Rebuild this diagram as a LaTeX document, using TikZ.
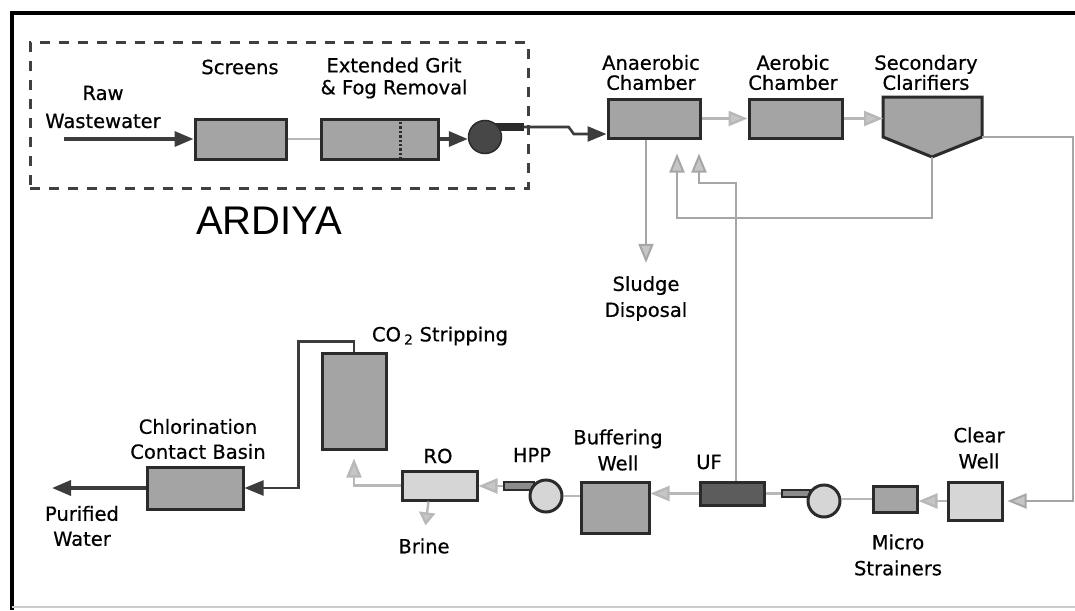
\documentclass[tikz,border=0pt]{standalone}
\usepackage{fontspec}
\setmainfont{DejaVu Sans}[FakeBold=0.6]
\newfontfamily\titlefont{Liberation Sans}
\usetikzlibrary{arrows.meta}

\definecolor{boxline}{HTML}{2B2B2B}
\definecolor{boxfill}{HTML}{A4A4A4}
\definecolor{palefill}{HTML}{D6D6D6}
\definecolor{uffill}{HTML}{5C5C5C}
\definecolor{pipedark}{HTML}{3C3C3C}
\definecolor{pipelight}{HTML}{B8B8B8}

\tikzset{
  unit/.style={draw=boxline, line width=3pt, fill=boxfill, inner sep=0pt},
  lbl/.style={font=\fontsize{19.5}{26}\selectfont, align=center, inner sep=1pt},
  toplbl/.style={lbl, font=\fontsize{19.5}{20}\selectfont},
  darkflow/.style={draw=pipedark, line width=3.4pt, -{Triangle[length=19pt,width=15pt]}},
  lightflow/.style={draw=pipelight, line width=2.4pt, -{Triangle[length=19pt,width=15pt,fill=pipelight!80]}},
  pipe/.style={draw=pipelight, line width=2.4pt},
  returnflow/.style={lightflow, draw=black!35, line width=2pt},
}

\begin{document}
\begin{tikzpicture}[x=1pt,y=-1pt]
  \useasboundingbox (0,0) rectangle (1075,610);
  \draw[line width=4pt] (10,13) -- (1075,13);
  \draw[line width=4pt] (12,13) -- (12,610);
  \draw[black!20, line width=1.5pt] (12,607) -- (1075,607);

  \node[draw=black!75, line width=3pt, dash pattern=on 10pt off 9pt, minimum width=498pt, minimum height=145pt, inner sep=0pt] (pretreat) at (279,115.5) {};
  \node[font=\titlefont\fontsize{40}{40}\selectfont] (ardiya) at (269,221) {ARDIYA};

  \node[unit, minimum width=91pt, minimum height=40pt] (screens) at (240.5,139) {};
  \node[unit, minimum width=117pt, minimum height=40pt] (grit) at (379.5,139) {};
  \draw[boxline, line width=2.4pt, dotted] ([xshift=21pt]grit.north) -- ([xshift=21pt]grit.south);
  \node[fill=boxline, minimum width=33pt, minimum height=8pt, inner sep=0pt] (nozzle1) at (507,127) {};
  \node[circle, draw=boxline, fill=black!72, line width=1.5pt, minimum size=33pt, inner sep=0pt] (pump1) at (485,137) {};
  \coordinate (rawin) at (64,139);

  \node[unit, minimum width=92pt, minimum height=39pt] (anaerobic) at (654,118.5) {};
  \node[unit, minimum width=93pt, minimum height=39pt] (aerobic) at (795.5,118.5) {};
  \draw[unit] (883,97) -- (982,97) -- (982,137) -- (932,157) -- (883,137) -- cycle;
  \coordinate (clar-l) at (883,118.5);
  \coordinate (clar-r) at (982,137);
  \coordinate (clar-b) at (932,157);

  \node[unit, fill=palefill, minimum width=54pt, minimum height=38pt] (clearwell) at (975,501) {};
  \node[unit, minimum width=44pt, minimum height=26pt] (micro) at (895,499) {};
  \node[draw=boxline, fill=black!45, line width=1.8pt, minimum width=28pt, minimum height=7pt, inner sep=0pt] (nozzle2) at (796,493.5) {};
  \node[circle, draw=boxline, fill=palefill, line width=3pt, minimum size=32pt, inner sep=0pt] (pump2) at (824,501) {};
  \node[unit, fill=uffill, minimum width=64pt, minimum height=23pt] (uf) at (732,493.5) {};
  \node[unit, minimum width=68pt, minimum height=51pt] (buffer) at (615,507.5) {};
  \node[draw=boxline, fill=black!45, line width=1.8pt, minimum width=30pt, minimum height=8pt, inner sep=0pt] (nozzleh) at (519,486) {};
  \node[circle, draw=boxline, fill=palefill, line width=3pt, minimum size=32pt, inner sep=0pt] (hpp) at (546,496) {};
  \node[unit, fill=palefill, minimum width=75pt, minimum height=29pt] (ro) at (439.5,485.5) {};
  \node[unit, minimum width=64pt, minimum height=96pt] (co2) at (354,401) {};
  \node[unit, minimum width=96pt, minimum height=42pt] (chlor) at (195,488) {};
  \coordinate (co2pipe) at ([xshift=54pt]chlor.east);
  \coordinate (outlet) at (52,488);

  \node[lbl, font=\fontsize{19.5}{28}\selectfont] (raw) at (103,107) {Raw\\Wastewater};
  \node[lbl] (screenslbl) at (240,67) {Screens};
  \node[lbl, font=\fontsize{19.5}{22}\selectfont] (gritlbl) at (394,78) {Extended Grit\\\& Fog Removal};
  \node[toplbl] (anaerobiclbl) at (651,72.5) {Anaerobic\\Chamber};
  \node[toplbl] (aerobiclbl) at (793,72.5) {Aerobic\\Chamber};
  \node[toplbl] (clarlbl) at (926,72.5) {Secondary\\Clarifiers};
  \node[lbl] (sludge) at (646,298.5) {Sludge\\Disposal};
  \node[lbl] (co2lbl) at (440,336) {CO\,\textsubscript{2} Stripping};
  \node[lbl, font=\fontsize{19.5}{25}\selectfont] (chlorlbl) at (198,439) {Chlorination\\Contact Basin};
  \node[lbl, font=\fontsize{19.5}{25}\selectfont] (purified) at (82,526) {Purified\\Water};
  \node[lbl] (rolbl) at (438,456) {RO};
  \node[lbl] (brine) at (424,546) {Brine};
  \node[lbl] (hpplbl) at (532,455) {HPP};
  \node[lbl] (bufferlbl) at (618,450) {Buffering\\Well};
  \node[lbl] (uflbl) at (709,462) {UF};
  \node[lbl] (clearlbl) at (979,448) {Clear\\Well};
  \node[lbl] (microlbl) at (898,555) {Micro\\Strainers};

  \draw[darkflow] (rawin) -- (screens.west);
  \draw[pipe] (screens.east) -- (grit.west);
  \draw[darkflow] (grit.east) -- (grit.east -| pump1.west);
  \draw[darkflow, line width=2.6pt] (nozzle1.east) -- ++(45,0) -- ++(5,7) -- (anaerobic.west |- 0,134);
  \draw[lightflow] (anaerobic.east) -- (aerobic.west);
  \draw[lightflow] (aerobic.east) -- (clar-l);
  \draw[returnflow, shorten >=14pt] (clar-b) -- ++(0,61) -| ([xshift=23pt]anaerobic.south);
  \draw[returnflow, shorten >=14pt] ([xshift=4pt]uf.north) -- ++(0,-298) -| ([xshift=45pt]anaerobic.south);
  \draw[returnflow, shorten >=12pt] ([xshift=-8pt]anaerobic.south) -- (sludge.north);
  \draw[returnflow, shorten >=4pt] (clar-r) -| ([xshift=69pt]clearwell.east) -- (clearwell.east);

  \draw[lightflow] (clearwell.west) -- (clearwell.west -| micro.east);
  \draw[pipe] (micro.west) -- (micro.west -| pump2.east);
  \draw[pipe] (uf.east) -- (nozzle2.west);
  \draw[lightflow] (uf.west) -- (uf.west -| buffer.east);
  \draw[pipe] (hpp.east) -- (hpp.east -| buffer.west);
  \draw[lightflow] (nozzleh.west) -- (nozzleh.west -| ro.east);
  \draw[lightflow, shorten >=8pt] (ro.west) -| (co2.south);
  \draw[lightflow, -{Triangle[length=13pt,width=16pt,fill=pipelight!80]}, shorten >=12pt] ([xshift=-11pt]ro.south) -- (brine.north);
  \draw[darkflow, line width=2.4pt] (co2.north) -- ++(0,-10) -| (co2pipe) -- (chlor.east);
  \draw[darkflow] (chlor.west) -- (outlet);
\end{tikzpicture}
\end{document}
